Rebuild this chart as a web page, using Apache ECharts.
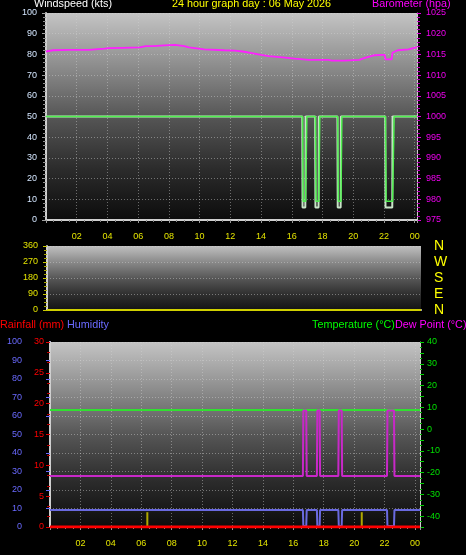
<!DOCTYPE html>
<html>
<head>
<meta charset="utf-8">
<script src="https://cdn.jsdelivr.net/npm/echarts@6/dist/echarts.min.js"></script>
<style>
html,body{margin:0;padding:0;background:#000;}
#c{width:466px;height:555px;}
</style>
</head>
<body>
<div id="c"></div>
<script>
// ---- data ----
const hourLabels = ['02','04','06','08','10','12','14','16','18','20','22','00'];
const windTimes = [0, 16.68, 16.7, 16.88, 16.9, 17.52, 17.54, 17.74, 17.76, 18.97, 18.99, 19.18, 19.2, 22.08, 22.1, 22.54, 22.56, 24.15];
const windGust  = [50, 50, 6, 6, 50, 50, 6, 6, 50, 50, 6, 6, 50, 50, 6, 6, 50, 50];
const speedTimes = [0, 16.7, 16.74, 16.9, 16.98, 17.54, 17.58, 17.76, 17.82, 18.99, 19.03, 19.2, 19.26, 22.1, 22.14, 22.56, 22.66, 24.15];
const windSpeed  = [50, 50, 9, 9, 50, 50, 9, 9, 50, 50, 9, 9, 50, 50, 9, 9, 50, 50];
const baroTimes = [0, 0.45, 1.5, 2.8, 3.8, 4.1, 5.0, 6.1, 6.5, 7.0, 7.7, 8.4, 9.0, 9.3, 10.3, 11.6, 12.3, 12.8, 13.4, 14.0, 14.5, 15.4, 16.2, 17.1, 18.4, 18.6, 19.4, 20.4, 20.7, 21.4, 21.9, 22.05, 22.1, 22.5, 22.55, 22.9, 23.6, 23.95, 24.15];
const baroValues = [1015.7, 1016.0, 1016.1, 1016.1, 1016.4, 1016.5, 1016.6, 1016.7, 1017.0, 1017.0, 1017.2, 1017.3, 1017.0, 1016.7, 1016.2, 1016.0, 1015.9, 1015.7, 1015.3, 1014.9, 1014.6, 1014.3, 1014.0, 1013.7, 1013.7, 1013.5, 1013.5, 1013.7, 1014.1, 1014.8, 1014.9, 1014.9, 1013.8, 1013.8, 1015.4, 1016.0, 1016.2, 1016.6, 1016.7];
const dirTimes = [0, 24.3];
const dirValues = [0, 0];
const dirLabels = {0:'N', 90:'E', 180:'S', 270:'W', 360:'N'};
const thTimes = [0, 16.63, 16.66, 16.85, 16.88, 17.55, 17.58, 17.73, 17.76, 18.96, 18.99, 19.18, 19.21, 22.16, 22.19, 22.62, 22.65, 24.33];
const humidity = [9.2, 9.2, 0.5, 0.5, 9.2, 9.2, 0.5, 0.5, 9.2, 9.2, 0.5, 0.5, 9.2, 9.2, 0.5, 0.5, 9.2, 9.2];
const dewPoint = [-21.6, -21.6, 8.5, 8.5, -21.6, -21.6, 8.5, 8.5, -21.6, -21.6, 8.5, 8.5, -21.6, -21.6, 8.5, 8.5, -21.6, -21.6];
const tempTimes = [0, 24.33];
const temperature = [8.7, 8.7];
const rainTimes = [0, 24.33];
const rainfall = [0, 0];
const markerTimes = [6.4, 20.5];
const markerValues = [8, 8];

const zip = (a, b) => a.map((t, i) => [t, b[i]]);
const FONT = 'Liberation Sans';
const HFONT = '10.8px "Liberation Sans"';

const chart = echarts.init(document.getElementById('c'), null, {renderer: 'canvas'});

function bg(stops) {
  return new echarts.graphic.LinearGradient(0, 0, 0, 1, stops.map((c, i) => ({offset: i / (stops.length - 1), color: c})));
}
const grad = ['#c4c4c4', '#8e8e8e', '#565656', '#2c2c2c', '#0c0c0c'];

const hourFmt = v => {
  const k = Math.round(v);
  if (Math.abs(v - k) > 1e-6 || k % 2 !== 0 || k === 0) return '';
  return hourLabels[k / 2 - 1] || '';
};
const dotted = {show: true, lineStyle: {type: [1, 2], color: 'rgba(210,210,210,0.45)', width: 1}};

function xAx(grid, max, showLabel, showSplit) {
  return {
    gridIndex: grid, type: 'value', min: 0, max: max, interval: 2,
    axisLine: {show: true, lineStyle: {color: '#cfcfcf', width: 2}},
    axisTick: {show: showLabel, length: 3, lineStyle: {color: '#9a9a9a'}},
    minorTick: {show: showLabel, splitNumber: 4, length: 2, lineStyle: {color: '#8a8a8a'}},
    axisLabel: {show: showLabel, formatter: hourFmt, color: '#e4e400', fontSize: 9, fontFamily: FONT, margin: 12, showMaxLabel: false, showMinLabel: false},
    splitLine: showSplit ? dotted : {show: false}
  };
}

const option = {
  backgroundColor: '#000',
  animation: false,
  graphic: [
    {type: 'text', x: 34, y: -1, style: {text: 'Windspeed (kts)', fill: '#ffffff', font: HFONT}},
    {type: 'text', x: 172, y: -1, style: {text: '24 hour graph day : 06 May 2026', fill: '#ffff00', font: HFONT}},
    {type: 'text', x: 372, y: -1, style: {text: 'Barometer (hpa)', fill: '#ff00ff', font: HFONT}},
    {type: 'text', x: 0, y: 320, style: {text: 'Rainfall (mm)', fill: '#ff0000', font: HFONT}},
    {type: 'text', x: 67, y: 320, style: {text: 'Humidity', fill: '#6a6aff', font: HFONT}},
    {type: 'text', x: 312, y: 320, style: {text: 'Temperature (°C)', fill: '#00ff00', font: HFONT}},
    {type: 'text', x: 395, y: 320, style: {text: 'Dew Point (°C)', fill: '#ff00ff', font: HFONT}}
  ],
  grid: [
    {left: 46, top: 13, width: 371, height: 207, show: true, borderWidth: 0, backgroundColor: bg(grad)},
    {left: 47, top: 246, width: 374, height: 64, show: true, borderWidth: 0, backgroundColor: bg(['#c0c0c0', '#8a8a8a', '#585858', '#303030', '#141414'])},
    {left: 50, top: 342, width: 370, height: 185, show: true, borderWidth: 0, backgroundColor: bg(grad)}
  ],
  xAxis: [
    xAx(0, 24.15, true, true),
    xAx(1, 24.3, false, false),
    xAx(2, 24.33, true, true)
  ],
  yAxis: [
    {gridIndex: 0, type: 'value', min: 0, max: 100, interval: 10, position: 'left',
      axisLine: {show: true, lineStyle: {color: '#cfcfcf', width: 2}},
      axisTick: {show: true, length: 4, lineStyle: {color: '#a0a0a0'}},
      minorTick: {show: true, splitNumber: 5, length: 3, lineStyle: {color: '#909090'}},
      axisLabel: {color: '#d4e6ff', fontSize: 9, fontFamily: FONT, margin: 9},
      splitLine: dotted},
    {gridIndex: 0, type: 'value', min: 975, max: 1025, interval: 5, position: 'right',
      axisLine: {show: true, lineStyle: {color: '#cfcfcf', width: 1}},
      axisTick: {show: true, length: 4, lineStyle: {color: '#e000e0'}},
      minorTick: {show: true, splitNumber: 5, length: 3, lineStyle: {color: '#c000c0'}},
      axisLabel: {color: '#f000f0', fontSize: 9, fontFamily: FONT, margin: 9, formatter: v => String(v)},
      splitLine: {show: false}},
    {gridIndex: 1, type: 'value', min: 0, max: 360, interval: 90, position: 'left',
      axisLine: {show: true, lineStyle: {color: '#cfcfcf', width: 2}},
      axisTick: {show: true, length: 4, lineStyle: {color: '#c8c800'}},
      minorTick: {show: true, splitNumber: 4, length: 3, lineStyle: {color: '#a8a800'}},
      axisLabel: {color: '#e4e400', fontSize: 9, fontFamily: FONT, margin: 9},
      splitLine: dotted},
    {gridIndex: 1, type: 'value', min: 0, max: 360, interval: 90, position: 'right',
      axisLine: {show: false}, axisTick: {show: false},
      axisLabel: {color: '#ffff00', fontSize: 14, fontFamily: FONT, margin: 13, formatter: v => dirLabels[v] || ''},
      splitLine: {show: false}},
    {gridIndex: 2, type: 'value', min: 0, max: 100, interval: 10, position: 'left', offset: 20,
      axisLine: {show: true, lineStyle: {color: '#6a6aff', width: 2}},
      axisTick: {show: true, length: 4, lineStyle: {color: '#6a6aff'}},
      axisLabel: {color: '#6a6aff', fontSize: 9, fontFamily: FONT, margin: 8},
      splitLine: dotted},
    {gridIndex: 2, type: 'value', min: 0, max: 30, interval: 5, position: 'left',
      axisLine: {show: true, lineStyle: {color: '#cfcfcf', width: 2}},
      axisTick: {show: true, length: 4, lineStyle: {color: '#e00000'}},
      minorTick: {show: true, splitNumber: 3, length: 3, lineStyle: {color: '#c00000'}},
      axisLabel: {color: '#ff0000', fontSize: 9, fontFamily: FONT, margin: 6},
      splitLine: {show: false}},
    {gridIndex: 2, type: 'value', min: -45, max: 40, interval: 5, position: 'right',
      axisLine: {show: true, lineStyle: {color: '#cfcfcf', width: 1}},
      axisTick: {show: true, length: 4, lineStyle: {color: '#00d000'}},
      minorTick: {show: true, splitNumber: 2, length: 2, lineStyle: {color: '#00b000'}},
      axisLabel: {color: '#00e000', fontSize: 9, fontFamily: FONT, margin: 7, formatter: v => (v % 10 === 0 ? String(v) : '')},
      splitLine: {show: false}}
  ],
  series: [
    {name: 'Gust', type: 'line', xAxisIndex: 0, yAxisIndex: 0, data: zip(windTimes, windGust), symbol: 'none',
      lineStyle: {color: '#c8e4c8', width: 2}},
    {name: 'Windspeed', type: 'line', xAxisIndex: 0, yAxisIndex: 0, data: zip(speedTimes, windSpeed), symbol: 'none',
      lineStyle: {color: '#50f050', width: 1.5}},
    {name: 'Barometer', type: 'line', xAxisIndex: 0, yAxisIndex: 1, data: zip(baroTimes, baroValues), symbol: 'none',
      lineStyle: {color: '#ff20ff', width: 1.8}},
    {name: 'Direction', type: 'line', xAxisIndex: 1, yAxisIndex: 2, data: zip(dirTimes, dirValues), symbol: 'none',
      lineStyle: {color: '#d0d000', width: 2}},
    {name: 'Humidity', type: 'line', xAxisIndex: 2, yAxisIndex: 4, data: zip(thTimes, humidity), symbol: 'none',
      lineStyle: {color: '#6a6ae0', width: 2}},
    {name: 'Markers', type: 'bar', xAxisIndex: 2, yAxisIndex: 4, data: zip(markerTimes, markerValues), barWidth: 2,
      itemStyle: {color: '#b0a800'}},
    {name: 'Temperature', type: 'line', xAxisIndex: 2, yAxisIndex: 6, data: zip(tempTimes, temperature), symbol: 'none',
      lineStyle: {color: '#30e030', width: 2}},
    {name: 'Dew Point', type: 'line', xAxisIndex: 2, yAxisIndex: 6, data: zip(thTimes, dewPoint), symbol: 'none',
      lineStyle: {color: '#c828c8', width: 2}},
    {name: 'Rainfall', type: 'line', xAxisIndex: 2, yAxisIndex: 5, data: zip(rainTimes, rainfall), symbol: 'none',
      lineStyle: {color: '#ff0000', width: 3}}
  ]
};
chart.setOption(option);
</script>
</body>
</html>
